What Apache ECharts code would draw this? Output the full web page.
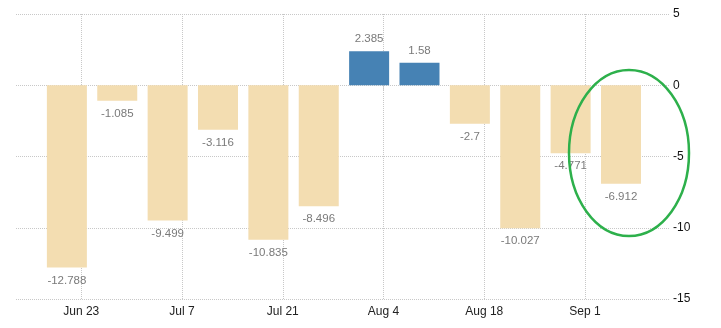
<!DOCTYPE html>
<html>
<head>
<meta charset="utf-8">
<script src="https://cdn.jsdelivr.net/npm/echarts@6/dist/echarts.min.js"></script>
<style>html,body{margin:0;padding:0;background:#fff;}#c{width:721px;height:328px;}</style>
</head>
<body>
<div id="c"></div>
<script>
const dates = ['2019-06-21','2019-06-28','2019-07-05','2019-07-12','2019-07-19','2019-07-26','2019-08-02','2019-08-09','2019-08-16','2019-08-23','2019-08-30','2019-09-06'];
const values = [-12.788, -1.085, -9.499, -3.116, -10.835, -8.496, 2.385, 1.58, -2.7, -10.027, -4.771, -6.912];
const tickDates = ['2019-06-23','2019-07-07','2019-07-21','2019-08-04','2019-08-18','2019-09-01'];
const yTicks = [-15, -10, -5, 0, 5];
const months = ['Jan','Feb','Mar','Apr','May','Jun','Jul','Aug','Sep','Oct','Nov','Dec'];

// day number (days since 2019-01-01)
function dn(s){ const p = s.split('-').map(Number); return Math.round((Date.UTC(p[0], p[1]-1, p[2]) - Date.UTC(2019,0,1)) / 86400000); }
function dlabel(v){ const d = new Date(Date.UTC(2019,0,1) + Math.round(v) * 86400000); return months[d.getUTCMonth()] + ' ' + d.getUTCDate(); }
const tickDays = tickDates.map(dn);
const xMin = dn('2019-06-23') - 9.07;
const xMax = dn('2019-09-01') + 11.81;

const chart = echarts.init(document.getElementById('c'), null, {renderer: 'canvas'});
chart.setOption({
  animation: false,
  backgroundColor: '#fff',
  grid: {left: 16, right: 51, top: 14, bottom: 29, containLabel: false},
  xAxis: {
    type: 'value',
    min: xMin,
    max: xMax,
    axisLine: {show: false},
    axisTick: {show: true, length: 5, customValues: tickDays, lineStyle: {color: '#c8c8c8', type: 'dotted'}},
    axisLabel: {
      customValues: tickDays,
      margin: 7,
      color: '#222',
      fontSize: 12,
      fontFamily: 'Liberation Sans, Arial, sans-serif',
      formatter: function(v){ return dlabel(v); }
    },
    splitLine: {show: true, lineStyle: {color: '#c8c8c8', type: 'dotted', width: 1}}
  },
  yAxis: {
    type: 'value',
    position: 'right',
    min: yTicks[0],
    max: yTicks[yTicks.length-1],
    interval: 5,
    axisLine: {show: false},
    axisTick: {show: false},
    axisLabel: {margin: 3, color: '#111', fontSize: 12, fontFamily: 'Liberation Sans, Arial, sans-serif'},
    splitLine: {show: true, lineStyle: {color: '#c8c8c8', type: 'dotted', width: 1}}
  },
  series: [{
    type: 'bar',
    barWidth: 40,
    data: dates.map(function(d, i){
      const v = values[i];
      return {
        value: [dn(d), v],
        itemStyle: {color: v >= 0 ? '#4682B4' : '#F3DDB1'},
        label: {position: v >= 0 ? 'top' : 'bottom', distance: v >= 0 ? 6 : 7}
      };
    }),
    label: {
      show: true,
      color: '#7a7a7a',
      fontSize: 11.5,
      fontFamily: 'Liberation Sans, Arial, sans-serif',
      formatter: function(p){ return String(p.value[1]); }
    }
  }],
  graphic: [{
    type: 'ellipse',
    shape: {cx: 629, cy: 153, rx: 60, ry: 83},
    style: {fill: 'none', stroke: '#2DB04B', lineWidth: 2.5},
    z: 100
  }]
});
</script>
</body>
</html>
